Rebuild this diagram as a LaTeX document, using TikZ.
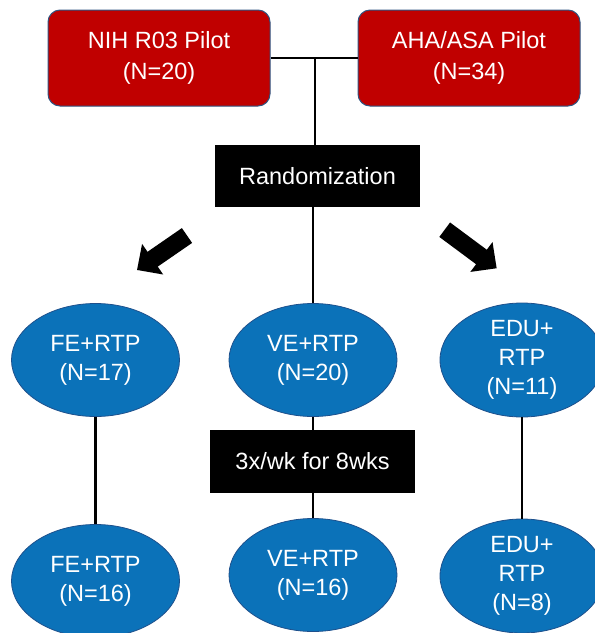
\documentclass[tikz,border=0pt]{standalone}
\usepackage{fontspec}
\setmainfont{Liberation Sans}
\usetikzlibrary{arrows.meta,shapes.geometric}
\definecolor{boxred}{RGB}{192,0,0}
\definecolor{boxredline}{RGB}{47,85,130}
\definecolor{ellblue}{RGB}{11,114,185}
\definecolor{ellline}{RGB}{30,80,140}
\begin{document}
\begin{tikzpicture}[x=1pt,y=-1pt,
  redbox/.style={draw=boxredline, line width=1pt, fill=boxred, rounded corners=12pt,
    minimum width=222pt, minimum height=96pt, text=white, align=center,
    font=\fontsize{23.5}{31.5}\selectfont, inner sep=0pt},
  blackbox/.style={fill=black, text=white, minimum width=205pt, minimum height=62pt,
    font=\fontsize{23.5}{29}\selectfont, inner sep=0pt},
  grp/.style={ellipse, draw=ellline, line width=0.8pt, fill=ellblue, text=white,
    minimum width=168pt, minimum height=113pt, inner sep=0pt, align=center,
    font=\fontsize{23.5}{29}\selectfont},
  conn/.style={line width=2.2pt},
  bigarrow/.style={line width=18pt, -{Triangle[width=36pt,length=19pt]}}
]
\useasboundingbox (0,0) rectangle (595,633);
\clip (0,0) rectangle (595,633);

\node[redbox] (nih) at (159,58) {NIH R03 Pilot\\(N=20)};
\node[redbox] (aha) at (469,58) {AHA/ASA Pilot\\(N=34)};
\node[blackbox] (rand) at (317.5,176) {Randomization};

\node[grp] (fe1) at (95.5,360) {FE+RTP\\(N=17)};
\node[grp] (ve1) at (313,360) {VE+RTP\\(N=20)};
\node[grp, minimum width=164pt, minimum height=114pt] (edu1) at (522,360) {EDU+\\RTP\\(N=11)};

\node[blackbox, minimum height=63pt] (wk) at (312.5,461.5) {3x/wk for 8wks};

\node[grp] (fe2) at (95.5,581) {FE+RTP\\(N=16)};
\node[grp] (ve2) at (313,575) {VE+RTP\\(N=16)};
\node[grp, minimum width=164pt, minimum height=114pt] (edu2) at (522,576) {EDU+\\RTP\\(N=8)};

\coordinate (j) at (315,58);
\draw[conn] (nih.east) -- (aha.west);
\draw[conn] (j) -- (j |- rand.north);
\draw[conn] (ve1.north |- rand.south) -- (ve1.north);
\draw[conn] (fe1.south) -- (fe2.north);
\draw[conn] (ve1.south) -- (ve1.south |- wk.north);
\draw[conn] (ve2.north |- wk.south) -- (ve2.north);
\draw[conn] (edu1.south) -- (edu2.north);

\coordinate (la1) at (187,235.5);
\coordinate (la2) at (137,270);
\coordinate (ra1) at (444.7,229.7);
\coordinate (ra2) at (496.7,268.3);
\draw[bigarrow] (la1) -- (la2);
\draw[bigarrow] (ra1) -- (ra2);
\end{tikzpicture}
\end{document}
